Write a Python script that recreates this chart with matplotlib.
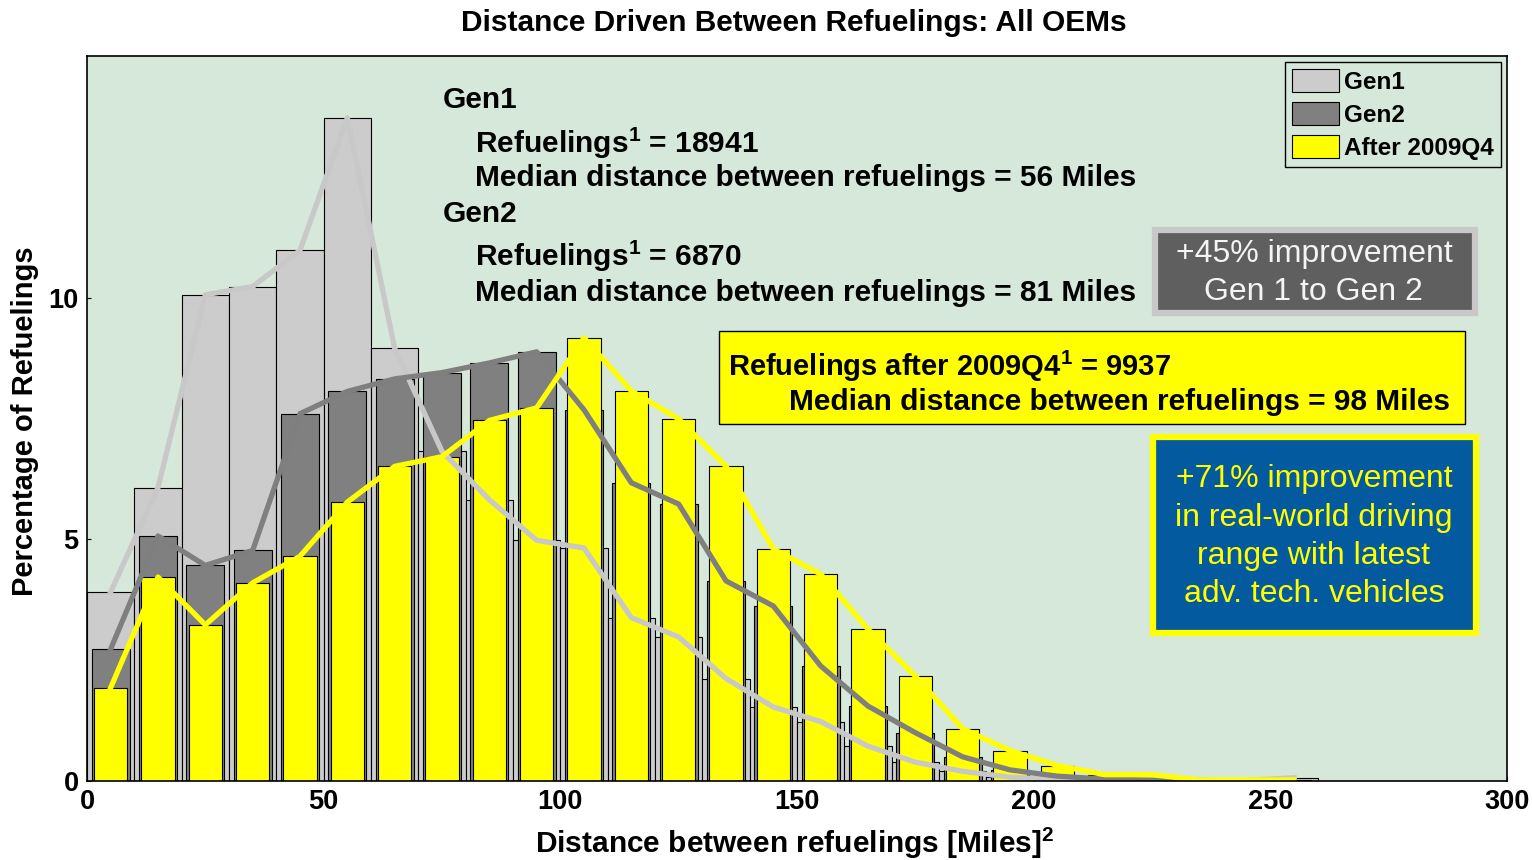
import numpy as np
import matplotlib
matplotlib.use("Agg")
import matplotlib.pyplot as plt
from matplotlib.patches import Rectangle, Patch

plt.rcParams['font.family'] = ['Liberation Sans', 'DejaVu Sans']
plt.rcParams['mathtext.fontset'] = 'custom'
plt.rcParams['mathtext.rm'] = 'Liberation Sans:bold'
plt.rcParams['mathtext.bf'] = 'Liberation Sans:bold'

# bin centres (10 mile bins) and percentage of refuelings per bin
bin_centers = [5, 15, 25, 35, 45, 55, 65, 75, 85, 95, 105, 115, 125,
               135, 145, 155, 165, 175, 185, 195, 205, 215, 225, 235, 245, 255]
gen1 = [3.91, 6.07, 10.06, 10.23, 10.98, 13.72, 8.95, 6.82, 5.82, 4.98, 4.82, 3.38, 2.98,
        2.12, 1.53, 1.23, 0.72, 0.39, 0.20, 0.08, 0.03, 0.02, 0.01, 0.01, 0.01, 0.07]
gen2 = [2.73, 5.07, 4.46, 4.77, 7.60, 8.06, 8.32, 8.45, 8.65, 8.88, 7.68, 6.17, 5.73,
        4.14, 3.62, 2.38, 1.55, 1.00, 0.50, 0.23, 0.10, 0.04, 0.02, 0.01, 0.00, 0.00]
after09 = [1.93, 4.22, 3.23, 4.10, 4.65, 5.77, 6.51, 6.71, 7.46, 7.72, 9.17, 8.07, 7.49,
           6.51, 4.80, 4.28, 3.14, 2.17, 1.08, 0.63, 0.32, 0.13, 0.13, 0.02, 0.02, 0.02]

series_names = ['Gen1', 'Gen2', 'After 2009Q4']
bar_colors = ['#CCCCCC', '#808080', '#FFFF00']
line_colors = ['#C8C8C8', '#7F7F7F', '#FFFF00']
bar_widths = [10, 8, 7]

bg = '#D6E8DA'

fig = plt.figure(figsize=(15.32, 8.6), dpi=100)
ax = fig.add_axes([87/1532, 79/860, 1420/1532, 725/860])
ax.set_facecolor(bg)

data = [gen1, gen2, after09]
for vals, col, w in zip(data, bar_colors, bar_widths):
    ax.bar(bin_centers, vals, width=w, color=col, edgecolor='black', linewidth=0.8, zorder=2)
for vals, col in zip(data, line_colors):
    ax.plot(bin_centers, vals, color=col, lw=3.8, zorder=3, solid_joinstyle='round')

ax.set_xlim(0, 300)
ax.set_ylim(0, 15)
ax.set_xticks([0, 50, 100, 150, 200, 250, 300])
ax.set_yticks([0, 5, 10])
ax.tick_params(direction='in', length=3, labelsize=19.5, pad=6)
for lbl in ax.get_xticklabels() + ax.get_yticklabels():
    lbl.set_fontweight('bold')
for s in ax.spines.values():
    s.set_linewidth(1.2)
    s.set_zorder(5)

fig.text(794/1532, 1 - 23/860, 'Distance Driven Between Refuelings: All OEMs',
         ha='center', va='center', fontsize=21.5, fontweight='bold')
fig.text(795/1532, 1 - 843/860, r'Distance between refuelings [Miles]$^{2}$',
         ha='center', va='center', fontsize=21.5, fontweight='bold')
fig.text(25/1532, 1 - 421/860, 'Percentage of Refuelings', rotation=90,
         ha='center', va='center', fontsize=21, fontweight='bold')

# stats text block
tk = dict(fontsize=21.5, fontweight='bold', va='baseline', zorder=6)
ax.text(75.2, 13.93, 'Gen1', **tk)
ax.text(82.0, 12.99, r'Refuelings$^{1}$ = 18941', **tk)
ax.text(82.0, 12.30, 'Median distance between refuelings = 56 Miles', **tk)
ax.text(75.2, 11.57, 'Gen2', **tk)
ax.text(82.0, 10.66, r'Refuelings$^{1}$ = 6870', **tk)
ax.text(82.0, 9.94, 'Median distance between refuelings = 81 Miles', **tk)

# gray box
ax.add_patch(Rectangle((225.6, 9.69), 67.7, 1.70, facecolor='#5F5F5F',
                       edgecolor='#C8C8C8', lw=4.5, zorder=6))
ax.text(259.2, 10.91, '+45% improvement', color='#F4F4F4', fontsize=23,
        ha='center', va='center', zorder=7)
ax.text(259.2, 10.12, 'Gen 1 to Gen 2', color='#F4F4F4', fontsize=23,
        ha='center', va='center', zorder=7)

# yellow box
ax.add_patch(Rectangle((133.5, 7.39), 157.6, 1.91, facecolor='#FFFF00',
                       edgecolor='black', lw=1, zorder=6))
ax.text(135.4, 8.57, r'Refuelings after 2009Q4$^{1}$ = 9937', fontsize=21,
        fontweight='bold', ha='left', va='center', zorder=7)
ax.text(288.0, 7.85, 'Median distance between refuelings = 98 Miles', fontsize=21.5,
        fontweight='bold', ha='right', va='center', zorder=7)

# blue box
ax.add_patch(Rectangle((225.2, 3.06), 68.3, 4.06, facecolor='#045A9E',
                       edgecolor='#FFFF00', lw=4.5, zorder=6))
blue_lines = ['+71% improvement', 'in real-world driving', 'range with latest', 'adv. tech. vehicles']
for txt, yy in zip(blue_lines, [6.25, 5.45, 4.66, 3.87]):
    ax.text(259.2, yy, txt, color='#FFFF00', fontsize=23, ha='center', va='center', zorder=7)

handles = [Patch(facecolor=c, edgecolor='black', lw=0.8) for c in bar_colors]
leg = ax.legend(handles, series_names, loc='upper right', bbox_to_anchor=(0.996, 0.992),
                prop={'weight': 'bold', 'size': 17.5}, frameon=True, fancybox=False,
                handlelength=1.95, handleheight=1.05, handletextpad=0.2,
                labelspacing=0.35, borderpad=0.3, borderaxespad=0)
leg.get_frame().set_facecolor(bg)
leg.get_frame().set_edgecolor('black')
leg.get_frame().set_linewidth(1)
leg.get_frame().set_alpha(1)
leg.set_zorder(8)

fig.savefig('out.png', dpi=100, facecolor='white')
